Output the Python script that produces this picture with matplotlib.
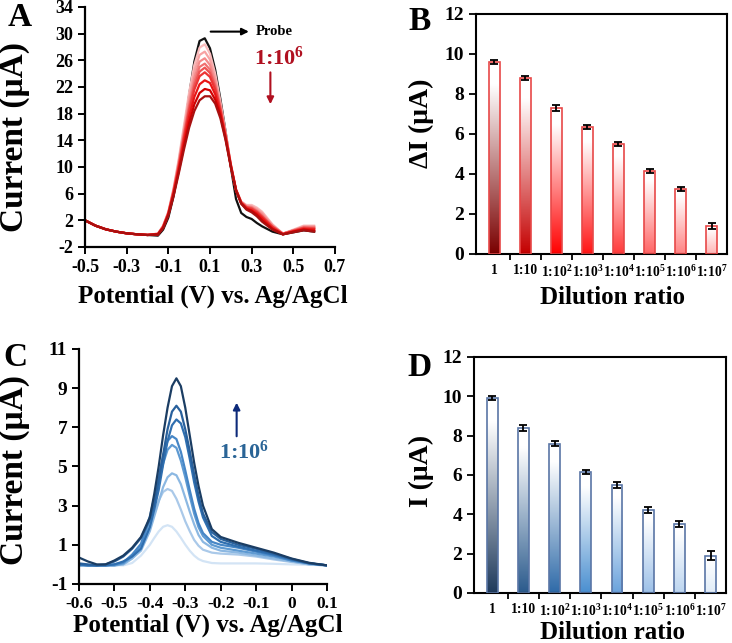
import numpy as np
import matplotlib.pyplot as plt
from matplotlib.colors import LinearSegmentedColormap

plt.rcParams['font.family'] = ['Liberation Serif', 'DejaVu Serif']
plt.rcParams['font.weight'] = 'bold'
plt.rcParams['axes.labelweight'] = 'bold'
plt.rcParams['axes.unicode_minus'] = False
plt.rcParams['mathtext.fontset'] = 'custom'
plt.rcParams['mathtext.rm'] = 'Liberation Serif:bold'
plt.rcParams['mathtext.bf'] = 'Liberation Serif:bold'
plt.rcParams['mathtext.it'] = 'Liberation Serif:bold'

# ---- Panel A: DPV curves, probe + dilutions (red) ----
potA_base = [-0.5, -0.45, -0.4, -0.35, -0.3, -0.25, -0.2]
curA_base = [2.0, 1.2, 0.65, 0.3, 0.05, -0.1, -0.2]
potA = [-0.15, -0.125, -0.1, -0.075, -0.05, -0.025, 0.0, 0.025, 0.05, 0.075,
        0.1, 0.125, 0.15, 0.175, 0.2, 0.225, 0.25, 0.275, 0.3, 0.325, 0.35,
        0.4, 0.45, 0.5, 0.55, 0.6]
probe = [-0.3, 0.6, 2.4, 5.6, 9.8, 15.0, 20.8, 25.8, 28.9, 29.3, 27.8, 24.6, 20.2,
         15.3, 10.0, 5.2, 3.1, 2.5, 2.2, 1.6, 1.1, 0.3, -0.1, 0.2, 0.5, 0.3]
red_curves = [
    [0.0, 1.2, 3.3, 6.8, 11.2, 16.2, 21.2, 25.3, 27.9, 28.4, 27.0, 24.0, 19.8,
     15.2, 10.5, 6.6, 4.8, 4.3, 4.3, 3.9, 3.3, 1.4, 0.0, 0.6, 1.2, 1.2],
    [0.0, 1.1, 3.2, 6.6, 10.9, 15.7, 20.5, 24.3, 26.8, 27.3, 26.1, 23.4, 19.5,
     15.0, 10.4, 6.6, 4.8, 4.2, 4.1, 3.7, 3.1, 1.3, 0.0, 0.5, 1.1, 1.1],
    [0.0, 1.1, 3.1, 6.5, 10.6, 15.2, 19.8, 23.4, 25.8, 26.3, 25.3, 22.8, 19.1,
     14.9, 10.4, 6.6, 4.7, 4.1, 4.0, 3.5, 2.9, 1.2, 0.0, 0.5, 1.0, 1.0],
    [-0.1, 1.1, 3.1, 6.4, 10.4, 14.9, 19.2, 22.7, 25.0, 25.5, 24.6, 22.3, 18.9,
     14.8, 10.3, 6.6, 4.7, 4.0, 3.9, 3.4, 2.7, 1.1, 0.0, 0.5, 0.9, 0.9],
    [-0.1, 1.0, 3.0, 6.3, 10.2, 14.6, 18.8, 22.2, 24.3, 24.9, 24.1, 22.0, 18.7,
     14.7, 10.3, 6.6, 4.7, 4.0, 3.8, 3.3, 2.6, 1.0, 0.0, 0.4, 0.9, 0.8],
    [-0.1, 1.0, 3.0, 6.2, 10.0, 14.3, 18.3, 21.6, 23.6, 24.2, 23.5, 21.6, 18.5,
     14.6, 10.2, 6.5, 4.6, 3.9, 3.7, 3.2, 2.5, 1.0, -0.1, 0.4, 0.8, 0.7],
    [-0.1, 0.9, 2.9, 6.0, 9.7, 13.7, 17.5, 20.5, 22.4, 23.0, 22.6, 20.9, 18.1,
     14.4, 10.2, 6.5, 4.6, 3.8, 3.5, 3.0, 2.3, 0.8, -0.1, 0.3, 0.7, 0.6],
    [-0.1, 0.9, 2.8, 5.8, 9.3, 13.1, 16.6, 19.4, 21.1, 21.7, 21.5, 20.1, 17.7,
     14.2, 10.1, 6.5, 4.5, 3.7, 3.4, 2.8, 2.0, 0.7, -0.1, 0.3, 0.6, 0.4],
    [-0.15, 0.8, 2.7, 5.6, 9.0, 12.6, 15.9, 18.4, 20.0, 20.6, 20.6, 19.5, 17.3,
     14.0, 10.0, 6.5, 4.5, 3.6, 3.2, 2.6, 1.8, 0.6, -0.1, 0.2, 0.5, 0.3],
]
red_colors = ['#f9bcbc', '#f7a3a3', '#f48a8a', '#f17070', '#ee5252',
              '#ec3535', '#e81515', '#d00000', '#a81010']

# ---- Panel C: DPV curves (blue) ----
potC = [-0.6, -0.575, -0.55, -0.525, -0.5, -0.475, -0.45, -0.425, -0.4, -0.3875,
        -0.375, -0.3625, -0.35, -0.3375, -0.325, -0.3125, -0.3, -0.2875, -0.275,
        -0.2625, -0.25, -0.225, -0.2, -0.15, -0.1, -0.05, 0.0, 0.05, 0.1]
blue_curves = [
    [-0.05, -0.05, -0.05, -0.05, -0.05, -0.05, 0.07, 0.45, 1.0, 1.35, 1.68, 1.92, 2.0,
     1.92, 1.68, 1.36, 1.01, 0.7, 0.45, 0.27, 0.17, 0.07, 0.05, 0.05, 0.05, 0.03, 0.0, -0.02, -0.05],
    [-0.05, -0.05, -0.05, -0.05, -0.05, 0.0, 0.3, 0.9, 1.95, 2.6, 3.25, 3.7, 3.85,
     3.75, 3.35, 2.8, 2.2, 1.7, 1.25, 0.95, 0.75, 0.6, 0.55, 0.5, 0.4, 0.25, 0.12, 0.0, -0.05],
    [-0.05, -0.05, -0.05, -0.05, -0.05, 0.0, 0.3, 0.7, 1.7, 2.45, 3.2, 3.95, 4.45,
     4.65, 4.55, 4.1, 3.4, 2.7, 2.05, 1.5, 1.15, 0.85, 0.7, 0.6, 0.45, 0.3, 0.15, 0.0, -0.05],
    [-0.05, -0.05, -0.05, -0.05, -0.05, 0.05, 0.4, 0.95, 2.25, 3.2, 4.2, 5.15, 5.85,
     6.1, 5.95, 5.3, 4.45, 3.5, 2.6, 1.9, 1.45, 1.0, 0.85, 0.7, 0.55, 0.4, 0.2, 0.05, -0.05],
    [0.0, -0.05, -0.05, -0.05, 0.0, 0.1, 0.5, 1.05, 2.45, 3.4, 4.5, 5.55, 6.3,
     6.55, 6.4, 5.75, 4.8, 3.8, 2.85, 2.1, 1.6, 1.15, 1.0, 0.85, 0.65, 0.45, 0.2, 0.05, -0.05],
    [0.0, -0.05, -0.05, -0.05, 0.0, 0.15, 0.4, 0.8, 1.9, 2.8, 3.8, 5.1, 6.3,
     7.1, 7.4, 7.2, 6.5, 5.4, 4.2, 3.2, 2.4, 1.45, 1.15, 0.9, 0.7, 0.5, 0.25, 0.05, -0.05],
    [0.05, 0.0, -0.05, 0.0, 0.15, 0.4, 0.8, 1.35, 2.3, 3.1, 4.3, 5.6, 6.9,
     7.8, 8.1, 7.8, 6.9, 5.8, 4.6, 3.5, 2.6, 1.65, 1.3, 1.0, 0.8, 0.55, 0.28, 0.06, -0.05],
    [0.35, 0.15, 0.0, 0.0, 0.2, 0.45, 0.85, 1.4, 2.4, 3.6, 5.0, 6.6, 8.0,
     9.1, 9.5, 9.1, 8.0, 6.6, 5.2, 4.0, 3.0, 1.8, 1.4, 1.1, 0.85, 0.6, 0.3, 0.08, -0.05],
]
blue_colors = ['#d3e4f5', '#aac9e9', '#8cb8e2', '#5e9ad2', '#4686c6',
               '#2f6fb0', '#28609c', '#1b3d63']
C_xticks = [-0.6, -0.5, -0.4, -0.3, -0.2, -0.1, 0.0, 0.1]
C_xticklabels = ['-0.6', '-0.5', '-0.4', '-0.3', '-0.2', '-0.1', '0', '0.1']

# ---- Panels B and D: bar charts ----
dilutions = ['1', '1:10', r'1:10$^{2}$', r'1:10$^{3}$', r'1:10$^{4}$',
             r'1:10$^{5}$', r'1:10$^{6}$', r'1:10$^{7}$']
dI_B = [9.6, 8.8, 7.3, 6.35, 5.5, 4.15, 3.25, 1.4]
err_B = [0.1, 0.1, 0.15, 0.1, 0.12, 0.12, 0.12, 0.15]
I_D = [9.9, 8.4, 7.6, 6.15, 5.5, 4.2, 3.5, 1.9]
err_D = [0.1, 0.15, 0.15, 0.1, 0.15, 0.15, 0.17, 0.22]
bottom_B = ['#7a0000', '#c40000', '#ff0000', '#ff1414', '#ff3a3a', '#ff6464', '#ff8282', '#ffb4b4']
bottom_D = ['#1f3a5c', '#2a5a8c', '#2e6aa8', '#4a8fd0', '#6aa2dc', '#9cc0e8', '#bcd5f0', '#e0ecf8']


def gradient_bars(ax, vals, errs, bottoms, edge):
    x = np.arange(len(vals))
    bars = ax.bar(x, vals, width=0.35, color='none', edgecolor=edge,
                  linewidth=1.2, zorder=3)
    grad = np.linspace(0, 1, 256).reshape(-1, 1)
    for bar, c in zip(bars, bottoms):
        cmap = LinearSegmentedColormap.from_list('g', [(0, c), (0.88, 'white'), (1, 'white')])
        bx, w, h = bar.get_x(), bar.get_width(), bar.get_height()
        ax.imshow(grad, cmap=cmap, origin='lower', aspect='auto',
                  extent=[bx, bx + w, 0, h], zorder=2)
    ax.errorbar(x, vals, yerr=errs, fmt='none', ecolor='black', capsize=3,
                elinewidth=1.3, capthick=1.3, zorder=4)
    ax.set_xlim(-0.58, 7.49)
    ax.set_ylim(0, 12)
    ax.set_yticks(range(0, 13, 2))
    ax.set_xticks(x)
    ax.set_xticklabels(dilutions, fontsize=9.8, fontweight='bold')
    ax.set_xticks(np.arange(0.5, 7, 1), minor=True)
    ax.tick_params(axis='x', which='major', length=0, pad=7)
    ax.tick_params(axis='x', which='minor', length=4, width=1.3, direction='out')
    ax.tick_params(axis='y', length=5, width=1.3, labelsize=14)
    for s in ax.spines.values():
        s.set_linewidth(1.5)


fig = plt.figure(figsize=(7.32, 6.43), dpi=100)

# Panel A
axA = fig.add_axes([0.1161, 0.6159, 0.3415, 0.3733])
axA.plot(potA_base + potA, curA_base + probe, color='#111111', lw=1.6)
for ys, c in zip(red_curves, red_colors):
    axA.plot(potA_base + potA, curA_base + ys, color=c, lw=1.6)
axA.set_xlim(-0.5, 0.7)
axA.set_ylim(-2, 34)
axA.set_xticks([-0.5, -0.3, -0.1, 0.1, 0.3, 0.5, 0.7])
axA.set_yticks(range(-2, 35, 4))
axA.spines[['top', 'right']].set_visible(False)
axA.spines[['left', 'bottom']].set_linewidth(1.6)
axA.tick_params(labelsize=13, length=5, width=1.4)
axA.set_ylabel('Current (μA)', fontsize=24)
axA.set_xlabel('Potential (V) vs. Ag/AgCl', fontsize=18)
axA.yaxis.set_label_coords(-0.22, 0.46)
axA.xaxis.set_label_coords(0.51, -0.155)
axA.annotate('', xy=(0.30, 30.3), xytext=(0.09, 30.3),
             arrowprops=dict(arrowstyle='-|>', color='black', lw=1.5, mutation_scale=10))
axA.text(0.32, 30.3, 'Probe', fontsize=10.5, va='center', ha='left')
axA.text(0.43, 26.3, r'1:10$^{6}$', fontsize=16, color='#b01020', ha='center', va='center')
axA.annotate('', xy=(0.39, 19.0), xytext=(0.39, 24.6),
             arrowprops=dict(arrowstyle='-|>', color='#b01020', lw=1.5, mutation_scale=10))

# Panel B
axB = fig.add_axes([0.6503, 0.605, 0.3429, 0.3733])
gradient_bars(axB, dI_B, err_B, bottom_B, '#e84848')
axB.set_ylabel('ΔI (μA)', fontsize=20)
axB.set_xlabel('Dilution ratio', fontsize=18)
axB.yaxis.set_label_coords(-0.166, 0.545)
axB.xaxis.set_label_coords(0.545, -0.135)

# Panel C
axC = fig.add_axes([0.1079, 0.0918, 0.3388, 0.3655])
for ys, c in zip(blue_curves, blue_colors):
    axC.plot(potC, ys, color=c, lw=1.6)
axC.set_xlim(-0.6, 0.1)
axC.set_ylim(-1, 11)
axC.set_xticks(C_xticks)
axC.set_xticklabels(C_xticklabels)
axC.set_yticks(range(-1, 12, 2))
axC.spines[['top', 'right']].set_visible(False)
axC.spines[['left', 'bottom']].set_linewidth(1.6)
axC.tick_params(axis='x', labelsize=12.5, length=5, width=1.4)
axC.tick_params(axis='y', labelsize=14, length=5, width=1.4)
axC.set_ylabel('Current (μA)', fontsize=24)
axC.set_xlabel('Potential (V) vs. Ag/AgCl', fontsize=18)
axC.yaxis.set_label_coords(-0.198, 0.485)
axC.xaxis.set_label_coords(0.52, -0.125)
axC.annotate('', xy=(-0.155, 8.4), xytext=(-0.155, 6.4),
             arrowprops=dict(arrowstyle='-|>', color='#0d2a7a', lw=1.5, mutation_scale=10))
axC.text(-0.135, 5.75, r'1:10$^{6}$', fontsize=16, color='#2a6496', ha='center', va='center')

# Panel D
axD = fig.add_axes([0.6475, 0.0778, 0.3443, 0.367])
gradient_bars(axD, I_D, err_D, bottom_D, '#5a76a6')
axD.set_ylabel('I (μA)', fontsize=20)
axD.set_xlabel('Dilution ratio', fontsize=18)
axD.yaxis.set_label_coords(-0.158, 0.518)
axD.xaxis.set_label_coords(0.55, -0.12)

# panel letters
for lab, (px, py) in zip('ABCD', [(20, 17), (420, 21), (15, 358), (419, 368)]):
    fig.text(px / 732, 1 - py / 643, lab, fontsize=24, ha='center', va='center')

fig.savefig('out.png', dpi=100)
